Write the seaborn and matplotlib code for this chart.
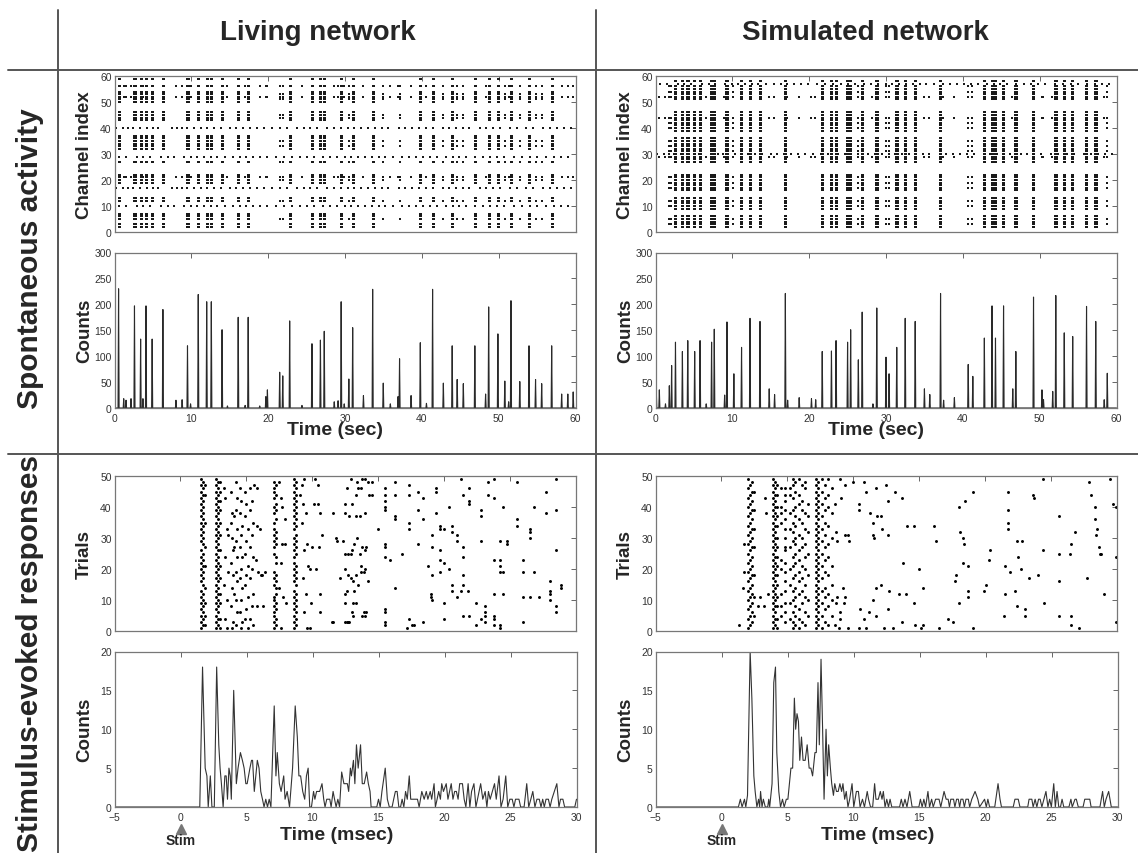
import matplotlib
matplotlib.use("Agg")
import matplotlib.pyplot as plt
import matplotlib.transforms as mtransforms
from matplotlib.lines import Line2D
import seaborn as sns
import pandas as pd

# ---------------- DATA ----------------
# Spontaneous activity: population burst peak times (sec) and counts
LIV_PEAK_T = [0.53, 1.2, 1.5, 2.15, 2.6, 3.4, 3.7, 4.1, 4.9, 6.3, 8.0, 8.8, 9.5, 9.9,
              10.9, 12.0, 12.6, 14.0, 14.7, 16.1, 17.0, 17.4, 18.9, 19.7, 19.9, 21.5,
              21.9, 22.8, 24.4, 25.7, 26.8, 27.3, 28.6, 29.1, 29.5, 29.9, 30.5, 31.0,
              32.4, 33.6, 34.98, 35.9, 36.9, 37.1, 38.6, 39.8, 40.6, 41.4, 42.8, 43.95,
              44.6, 45.4, 46.9, 48.3, 48.7, 49.9, 50.8, 51.3, 51.6, 52.75, 53.95, 54.8,
              55.6, 56.9, 58.2, 59.0, 59.7]
LIV_PEAK_C = [230, 18, 15, 18, 197, 133, 18, 197, 133, 190, 15, 16, 120, 8,
              219, 205, 205, 151, 4, 175, 5, 175, 4, 22, 35, 69,
              62, 168, 5, 124, 131, 148, 12, 14, 205, 8, 56, 155,
              24, 229, 48, 8, 22, 95, 24, 126, 9, 229, 48, 120,
              55, 47, 120, 27, 195, 143, 52, 12, 207, 51, 120, 55,
              47, 120, 27, 27, 31]

SIM_PEAK_T = [0.1, 0.5, 1.3, 1.8, 2.1, 2.6, 3.5, 4.2, 5.1, 5.8, 6.6, 7.3, 7.65, 9.0,
              9.3, 10.2, 11.2, 12.3, 13.6, 14.8, 15.5, 16.9, 17.2, 18.7, 20.3, 20.85,
              21.7, 22.9, 23.5, 25.0, 25.4, 26.4, 26.9, 28.3, 28.8, 30.0, 30.4, 31.4,
              32.5, 33.8, 35.0, 35.7, 37.1, 37.5, 38.9, 40.7, 41.3, 42.8, 43.8, 44.25,
              45.3, 46.5, 46.9, 49.2, 50.3, 50.5, 51.7, 52.1, 53.2, 54.3, 56.1, 57.3,
              58.4, 58.8]
SIM_PEAK_C = [35, 35, 8, 43, 82, 127, 109, 130, 109, 130, 8, 127, 152, 25,
              166, 66, 117, 173, 167, 37, 26, 221, 15, 20, 18, 16,
              109, 110, 130, 127, 151, 93, 185, 8, 193, 98, 66, 117,
              173, 167, 37, 26, 221, 15, 20, 84, 61, 135, 197, 135,
              197, 37, 109, 214, 35, 16, 32, 217, 145, 138, 196, 167,
              16, 67]

# Raster channels recruited in large / medium / small bursts
LIV_CH_BIG = [2, 3, 5, 6, 7, 12, 13, 19, 20, 21, 22, 27, 32, 33, 34, 35, 36, 37,
              43, 44, 45, 46, 50, 51, 52, 53, 54, 56, 59]
LIV_CH_MID = [5, 12, 20, 21, 27, 33, 35, 44, 45, 51, 52, 53, 56]
LIV_CH_FEW = [21, 52, 56]
SIM_CH_BIG = [2, 3, 4, 5, 6, 9, 10, 11, 12, 13, 16, 17, 18, 19, 20, 21, 22, 27, 28,
              29, 30, 31, 32, 33, 34, 35, 36, 39, 40, 41, 42, 43, 44, 45, 46, 51, 52,
              53, 54, 55, 56, 58]
SIM_CH_MID = [3, 5, 10, 12, 17, 19, 21, 29, 31, 33, 35, 40, 42, 44, 52, 54, 56]
SIM_CH_FEW = [29, 44, 52]

# Tonically firing channels and their spike times (sec)
LIV_TONIC_CH_A = [40, 17]
LIV_TONIC_CH_B = [29, 10]
SIM_TONIC_CH_A = [30]
SIM_TONIC_CH_B = [57]
TONIC_T_A = [0.2, 1.1, 1.8, 2.4, 3.3, 4.2, 5.0, 5.7, 7.5, 8.1, 8.8, 9.5, 10.4, 11.2,
             12.1, 13.0, 13.9, 15.0, 15.8, 16.7, 17.6, 18.5, 19.4, 20.5, 21.6, 22.4,
             23.8, 24.6, 25.5, 26.4, 27.7, 28.6, 29.5, 30.4, 31.2, 32.1, 33.0, 33.9,
             34.8, 35.6, 37.0, 37.8, 38.7, 39.6, 40.5, 41.4, 42.7, 43.6, 44.5, 45.4,
             46.2, 47.6, 48.4, 49.3, 50.2, 51.5, 52.4, 53.6, 54.5, 55.8, 56.7, 57.6,
             58.5, 59.4]
TONIC_T_B = [0.6, 1.5, 2.9, 3.7, 4.6, 6.1, 6.9, 7.8, 9.1, 10.0, 10.8, 11.7, 12.6,
             13.4, 14.4, 15.4, 16.3, 17.1, 18.0, 19.0, 19.9, 21.0, 22.0, 23.1, 24.2,
             25.1, 26.0, 27.1, 28.1, 29.0, 30.0, 30.8, 31.7, 32.6, 33.5, 34.4, 35.2,
             36.3, 37.4, 38.3, 39.2, 40.1, 41.0, 42.0, 43.1, 44.0, 44.9, 45.8, 46.9,
             48.0, 48.9, 49.8, 50.7, 52.0, 53.0, 54.1, 55.0, 56.2, 57.2, 58.1, 59.0]

# Stimulus-evoked PSTH (msec, counts)
EVL_T = [-5.0, 1.46, 1.67, 1.87, 2.0, 2.10, 2.26, 2.38, 2.56, 2.74, 2.90, 3.0, 3.10, 3.23,
         3.36, 3.46, 3.56, 3.67, 3.77, 3.85, 4.03, 4.23, 4.36, 4.54, 4.69, 4.82, 4.95,
         5.05, 5.26, 5.38, 5.46, 5.59, 5.82, 5.95, 6.08, 6.21, 6.33, 6.46, 6.59, 6.72,
         6.85, 7.10, 7.23, 7.33, 7.49, 7.62, 7.82, 7.92, 8.08, 8.26, 8.49, 8.69, 8.85,
         8.97, 9.10, 9.26, 9.41, 9.54, 9.67, 9.79, 9.92, 10.08, 10.18, 10.31, 10.44,
         10.54, 10.72, 10.85, 10.95, 11.08, 11.18, 11.31, 11.41, 11.56, 11.67, 11.79,
         11.92, 12.05, 12.21, 12.38, 12.51, 12.64, 12.74, 12.87, 12.95, 13.10, 13.21,
         13.33, 13.46, 13.64, 13.77, 13.92, 14.10, 14.23, 14.36, 14.44, 14.87, 15.0,
         15.13, 15.26, 15.51, 15.67, 15.82, 16.03, 16.15, 16.28, 16.41, 16.54, 16.67,
         16.79, 16.92, 17.05, 17.18, 17.33, 17.44, 17.56, 17.69, 17.82, 17.95, 18.08,
         18.28, 18.46, 18.62, 18.74, 18.92, 19.03, 19.21, 19.31, 19.44, 19.56, 19.69,
         19.79, 19.92, 20.13, 20.26, 20.51, 20.64, 20.77, 20.90, 21.03, 21.15, 21.36,
         21.49, 21.62, 21.79, 21.92, 22.05, 22.23, 22.38, 22.74, 22.90, 23.08, 23.21,
         23.33, 23.46, 23.79, 23.92, 24.13, 24.28, 24.44, 24.64, 24.79, 24.95, 25.13,
         25.26, 25.38, 25.64, 25.77, 26.03, 26.23, 26.38, 26.54, 26.69, 26.85, 27.0,
         27.18, 27.31, 27.44, 27.56, 27.69, 27.87, 28.0, 28.13, 28.51, 28.67, 28.79,
         28.97, 29.10, 29.87, 30.0]
EVL_C = [0, 0, 18, 5, 4, 0, 4, 0, 0, 18, 8, 5, 3, 0,
         4, 4, 1, 5, 4, 1, 15, 3, 5, 7, 6, 5, 3,
         3, 5, 6, 6, 2, 6, 5, 2, 1, 0, 1, 0, 1,
         0, 13, 4, 7, 3, 2, 4, 1, 2, 0, 5, 13, 9,
         4, 4, 2, 1, 4, 5, 0, 0, 2, 1, 2, 2,
         2, 3, 1, 0, 1, 1, 1, 0, 2, 1, 0,
         1, 0, 4.5, 3, 3, 3, 2, 5, 4, 6, 3,
         8, 5, 8, 3, 3, 4.5, 3, 2, 0, 0, 1,
         0, 2, 5, 1, 0, 0, 1, 2, 2, 0, 0,
         1, 0, 2, 1, 4, 1, 1, 1, 1, 1, 0,
         2, 1, 2, 1, 2, 1, 3, 0, 1, 2, 1,
         3, 2, 3, 1, 3, 1, 2, 2, 1, 3, 3,
         1, 0, 3, 0, 2, 3, 0, 3, 1, 2, 0,
         2, 1, 3, 1, 4, 0, 1, 4, 0, 1, 1,
         0, 1, 1, 0, 0, 3, 0, 1, 2, 0, 1,
         1, 0, 1, 0, 1, 1, 0, 1, 3, 0, 1,
         1, 0, 0, 1]

EVS_T = [-5.0, 1.28, 1.43, 1.56, 1.74, 1.84, 1.97, 2.17, 2.30, 2.45, 2.55, 2.68, 2.81,
         2.89, 2.96, 3.07, 3.17, 3.32, 3.50, 3.58, 3.65, 3.83, 3.96, 4.09, 4.19, 4.34,
         4.47, 4.62, 4.75, 4.91, 5.03, 5.26, 5.39, 5.52, 5.62, 5.72, 5.83, 5.93, 6.06,
         6.18, 6.34, 6.49, 6.64, 6.77, 6.90, 7.08, 7.18, 7.31, 7.41, 7.54, 7.66, 7.77,
         7.92, 8.02, 8.12, 8.25, 8.35, 8.48, 8.58, 8.71, 8.84, 8.97, 9.10, 9.20, 9.33,
         9.45, 9.58, 9.71, 9.89, 10.02, 10.22, 10.37, 10.50, 10.68, 10.83, 11.04, 11.14,
         11.29, 11.45, 11.60, 11.70, 11.88, 12.03, 12.16, 12.26, 12.39, 12.52, 12.65,
         12.77, 12.90, 13.49, 13.62, 13.75, 13.90, 14.05, 14.26, 14.44, 14.95, 15.07,
         15.20, 15.33, 15.46, 15.64, 15.76, 15.92, 16.04, 16.22, 16.48, 16.61, 16.86,
         17.02, 17.17, 17.27, 17.37, 17.58, 17.68, 17.81, 17.94, 18.04, 18.14, 18.29,
         18.40, 18.52, 18.70, 18.80, 18.96, 19.21, 19.42, 19.55, 19.93, 20.06, 20.18,
         20.31, 20.70, 20.95, 21.10, 21.21, 22.10, 22.23, 22.48, 22.61, 23.20, 23.30,
         23.51, 23.61, 23.76, 23.89, 24.02, 24.14, 24.27, 24.58, 24.73, 24.86, 24.99,
         25.17, 25.29, 25.42, 25.55, 25.68, 25.80, 25.93, 26.32, 26.47, 26.57, 26.78,
         26.88, 27.03, 27.39, 27.52, 27.90, 28.00, 28.67, 28.87, 29.0, 29.13, 29.33,
         29.53, 30.0]
EVS_C = [0, 0, 1, 0, 1, 0, 1.5, 20, 14, 4, 2, 0, 1,
         0, 2, 0, 1, 0, 0, 1, 0, 3, 16, 18, 7, 2,
         0, 1, 0, 1, 1, 5, 5, 14, 10, 12, 11, 6, 9,
         6, 6, 8, 5, 5, 4, 7, 7, 16, 8, 19, 10, 1,
         10, 4, 8, 5, 3, 1.5, 3, 2, 2, 3, 2, 3, 1,
         2, 0, 1, 3, 0, 2, 2, 0, 1, 0, 2, 1,
         0, 0, 3, 1, 1, 2, 1, 2, 0, 1, 0,
         1, 0, 0, 1, 0, 1, 0, 2, 0, 0, 1,
         0, 1, 0, 2, 0, 1, 0, 1, 1, 0, 2,
         1, 1, 0, 1, 1, 0, 1, 1, 0, 1, 1,
         0, 1, 1, 0, 1, 2, 1, 0, 1, 0, 1,
         0, 0, 3, 1, 0, 0, 1, 1, 0, 0, 1,
         1, 0, 1, 0, 1, 1, 0, 2, 0, 1, 0,
         3, 0, 2, 0, 0, 1, 0, 0, 1, 0, 1,
         1, 0, 0, 1, 1, 0, 0, 2, 0, 1, 2,
         0, 0]

# Evoked rasters: dense spike columns (msec, trial list) and scattered spikes
EVL_COL_T = [1.55, 1.72, 1.85, 2.70, 2.85, 3.00, 7.10, 7.25, 8.60, 8.80]
EVL_COL_TR = ["1,3,5,7,9,11,13,16,18,20,22,24,26,29,31,33,35,37,39,41,43,45,47,49",
              "2,4,6,8,10,12,15,17,19,21,23,25,28,30,32,34,36,38,40,42,44,46,48",
              "2,5,9,14,21,27,35,44,47",
              "1,3,5,7,9,11,13,15,17,19,21,23,25,27,29,31,33,35,37,39,41,43,45,47,49",
              "2,4,6,8,10,12,14,16,18,20,22,24,26,28,30,32,34,36,38,40,42,44,46,48",
              "1,4,9,12,17,21,26,31,35,39,42,45,48",
              "1,3,5,6,8,10,11,15,17,19,25,27,29,31,33,35,38,40,43,45,46,48",
              "2,4,7,9,12,14,16,18,22,24,28,30,32,36,39,41,44,47",
              "1,3,5,7,9,11,13,16,18,20,22,24,26,28,30,33,35,37,39,41,43,45,47,49",
              "2,4,6,8,10,12,15,17,19,21,25,27,29,31,34,36,38,40,42,44,46,48"]
EVL_DOTS = [(3.3, 46), (3.4, 43), (3.5, 33), (3.6, 31), (3.4, 24), (3.6, 19), (3.3, 15),
            (3.5, 10), (3.4, 4), (3.5, 1), (3.8, 45), (3.9, 38), (3.8, 35), (3.9, 30),
            (4.0, 26), (3.8, 22), (4.0, 18), (3.9, 14), (3.8, 8), (4.0, 3), (3.9, 1),
            (4.2, 48), (4.3, 43), (4.2, 39), (4.1, 37), (4.3, 33), (4.2, 29), (4.1, 27),
            (4.3, 24), (4.2, 19), (4.3, 16), (4.1, 12), (4.2, 10), (4.3, 6), (4.2, 2),
            (4.5, 46), (4.6, 42), (4.5, 38), (4.7, 34), (4.6, 31), (4.5, 27), (4.7, 24),
            (4.6, 20), (4.5, 17), (4.7, 14), (4.6, 10), (4.5, 6), (4.7, 3), (4.6, 1),
            (4.9, 45), (5.0, 41), (4.9, 37), (5.1, 33), (5.0, 29), (4.9, 25), (5.1, 21),
            (5.0, 18), (4.9, 15), (5.1, 11), (5.0, 7), (4.9, 4), (5.1, 1), (5.3, 46),
            (5.4, 42), (5.3, 39), (5.5, 35), (5.4, 31), (5.3, 27), (5.5, 24), (5.4, 20),
            (5.3, 17), (5.5, 12), (5.4, 8), (5.3, 4), (5.5, 2), (5.8, 34), (5.7, 23),
            (5.9, 19), (5.8, 8), (5.6, 47), (5.8, 46), (6.1, 18), (6.2, 18), (6.4, 19),
            (6.3, 8), (6.0, 33),
            (7.5, 48), (7.6, 43), (7.7, 40), (7.9, 36), (7.7, 28), (7.9, 28), (7.6, 22),
            (7.8, 11), (7.5, 14), (8.0, 9), (7.6, 1), (9.2, 47), (9.4, 49), (9.1, 44),
            (9.3, 41), (9.5, 38), (9.2, 35), (9.6, 28), (9.4, 26), (9.7, 21), (9.8, 20),
            (9.3, 17), (9.5, 12), (9.9, 9), (9.4, 6), (9.6, 1), (9.8, 1), (10.2, 49),
            (10.1, 41), (10.4, 41), (10.0, 27), (10.5, 27), (10.4, 47), (10.6, 38),
            (10.3, 20), (10.7, 31), (10.6, 12), (10.6, 6),
            (11.5, 3), (11.6, 3), (12.5, 3), (12.6, 3), (12.7, 3), (12.8, 3), (13.0, 6),
            (13.1, 5), (13.8, 5), (13.9, 6), (14.0, 5), (14.1, 6), (12.5, 9), (13.1, 9),
            (13.3, 9), (12.5, 12), (12.6, 13), (13.2, 13), (12.1, 17), (12.5, 20),
            (12.7, 18), (12.9, 17), (13.1, 16), (13.3, 18), (13.5, 15), (13.7, 19),
            (13.9, 19), (14.2, 16), (14.0, 20), (13.7, 21), (11.8, 30), (11.9, 29),
            (12.3, 29), (12.5, 25), (12.7, 25), (12.9, 25), (13.0, 26), (13.2, 28),
            (13.4, 30), (13.6, 25), (13.8, 27), (14.0, 26), (14.1, 27), (11.6, 38),
            (12.5, 38), (12.5, 41), (12.8, 37), (13.0, 41), (13.3, 37), (13.6, 37),
            (14.0, 38), (12.9, 49), (13.4, 48), (13.5, 46), (13.7, 46), (13.8, 49),
            (14.0, 49), (14.2, 48), (14.5, 48), (13.3, 44), (14.3, 44), (14.5, 44),
            (12.6, 46),
            (15.0, 33), (15.5, 46), (15.5, 44), (15.5, 40), (15.5, 39), (15.5, 42),
            (15.5, 28), (15.5, 27), (15.5, 24), (15.5, 7), (15.5, 6), (15.5, 3),
            (15.5, 2), (15.9, 23), (16.3, 48), (16.3, 44), (16.3, 37), (16.3, 36),
            (16.3, 14), (16.8, 25), (17.2, 1), (17.3, 47), (17.3, 44), (17.3, 35),
            (17.3, 33), (17.3, 4), (17.6, 2), (17.7, 2), (18.0, 45), (18.0, 39),
            (18.0, 28), (18.4, 43), (18.4, 36), (18.4, 3), (18.8, 21), (19.0, 11),
            (19.0, 12), (19.1, 31), (19.1, 27), (19.1, 18), (19.1, 10), (19.4, 46),
            (19.4, 45), (19.4, 38), (19.7, 34), (19.7, 33), (19.7, 26), (19.7, 23),
            (19.7, 19), (20.0, 33), (20.0, 22), (20.0, 9), (20.0, 4), (20.4, 40),
            (20.4, 20), (20.6, 13), (20.6, 34), (20.6, 32), (20.6, 15), (21.0, 29),
            (21.0, 11), (21.0, 31), (21.3, 49), (21.3, 13), (21.4, 44), (21.4, 27),
            (21.4, 24), (21.4, 18), (21.4, 15), (21.4, 5), (21.8, 13), (21.9, 46),
            (21.9, 41), (21.9, 42), (21.9, 5), (22.4, 2), (22.4, 9), (22.8, 39),
            (22.8, 37), (22.8, 29), (22.8, 4), (23.1, 5), (23.1, 3), (23.1, 6),
            (23.1, 8), (23.3, 48), (23.3, 44), (23.8, 49), (23.8, 43), (23.8, 23),
            (23.8, 12), (23.8, 5), (23.8, 4), (23.8, 2), (24.2, 29), (24.2, 23),
            (24.2, 21), (24.2, 19), (24.2, 1), (24.2, 2), (24.5, 40), (24.5, 19),
            (24.5, 12), (24.8, 29), (24.8, 28), (25.5, 48), (25.5, 36), (25.5, 34),
            (26.0, 19), (26.0, 23), (26.0, 11), (26.0, 3), (26.5, 33), (26.5, 32),
            (26.5, 30), (26.5, 11), (26.8, 40), (26.8, 19), (27.2, 11), (27.7, 45),
            (27.7, 38), (28.0, 10), (28.0, 12), (28.0, 13), (28.0, 16), (28.5, 49),
            (28.5, 39), (28.5, 26), (28.5, 8), (28.5, 6), (28.9, 15), (28.9, 14)]

EVS_COL_T = [2.05, 2.18, 2.32, 2.45, 3.92, 4.05, 4.18, 4.50, 4.85, 5.20, 5.40, 5.60,
             5.85, 6.10, 6.35, 6.60, 7.15, 7.35, 7.60, 7.85, 8.10, 8.40]
EVS_COL_TR = ["1,4,7,10,13,16,19,22,25,28,31,34,37,40,43,46,49",
              "2,5,8,11,14,17,20,23,26,29,32,35,38,41,44,47",
              "3,6,9,12,15,18,21,24,27,30,33,36,39,42,45,48",
              "5,11,18,27,33,39,45",
              "1,3,5,7,9,11,13,15,17,19,21,23,25,27,29,31,33,35,37,39,41,43,45,47,49",
              "2,4,6,8,10,12,14,16,18,20,22,24,26,28,30,32,34,36,38,40,42,44,46,48",
              "1,4,8,11,15,18,21,24,27,30,34,37,40,44,47",
              "5,8,12,20,23,35,38,40,46",
              "3,6,9,13,16,19,22,26,27,30,33,36,39,42,44,46",
              "4,9,15,20,27,33,38,44,46",
              "1,3,6,10,13,17,21,24,29,32,35,39,43,47,49",
              "2,5,8,11,14,18,22,25,28,30,34,37,40,45,48",
              "1,4,7,12,16,19,23,26,31,36,41,44,49",
              "3,9,13,17,21,27,30,35,39,42,47",
              "2,6,11,15,20,24,28,33,38,46,48",
              "5,10,18,25,32,37,41",
              "1,3,5,7,9,11,13,15,17,19,21,23,25,27,29,31,33,35,37,39,41,43,45,47,49",
              "2,4,6,8,10,12,14,16,18,20,22,24,26,28,30,32,34,36,38,40,42,44,46,48",
              "1,5,9,13,17,21,25,29,33,37,41,45,49",
              "3,7,11,14,19,23,27,31,35,39,43,47",
              "2,8,12,18,24,28,34,40,44,49",
              "5,10,15,21,30,38,46"]
EVS_DOTS = [(1.3, 2), (1.6, 14), (1.7, 19), (1.7, 28), (3.3, 43), (3.4, 38), (3.5, 12),
            (2.8, 8), (3.2, 8), (2.9, 11),
            (8.6, 2), (8.9, 1), (9.0, 4), (9.0, 6), (8.7, 9), (8.8, 11), (9.3, 9),
            (9.4, 11), (9.2, 14), (9.6, 1), (9.6, 31), (9.4, 31), (8.8, 29), (8.7, 32),
            (8.6, 41), (9.1, 43), (9.4, 47), (9.7, 29), (9.0, 49), (10.0, 48),
            (10.4, 1), (11.0, 1), (10.5, 7), (10.8, 4), (11.2, 6), (12.3, 1), (13.0, 1),
            (11.7, 5), (12.6, 7), (12.1, 15), (11.7, 14), (11.5, 10), (12.7, 13),
            (13.5, 12), (14.0, 12), (13.7, 3), (14.7, 2), (15.1, 1), (15.3, 2),
            (14.6, 9), (16.5, 1), (15.3, 14),
            (10.8, 48), (11.0, 45), (11.7, 46), (12.5, 47), (13.2, 45), (13.7, 43),
            (12.6, 42), (10.4, 41), (10.4, 39), (11.3, 38), (11.8, 37), (12.1, 37),
            (11.5, 35), (12.2, 33), (11.5, 31), (11.6, 30), (12.6, 31), (14.1, 34),
            (14.6, 34), (13.8, 22), (15.0, 20), (16.1, 34), (16.3, 29), (18.0, 40),
            (18.1, 32), (18.3, 30), (18.4, 28), (18.5, 42), (19.1, 45), (18.3, 22),
            (18.7, 21), (17.8, 18), (17.7, 16), (18.7, 13), (18.7, 11), (18.0, 9),
            (17.2, 4), (17.6, 3), (19.1, 1), (19.9, 13), (20.1, 15), (20.3, 23),
            (20.4, 26), (21.4, 5), (21.5, 12), (21.5, 21), (21.7, 33), (21.7, 35),
            (21.7, 39), (21.7, 45), (21.9, 19), (22.3, 13), (22.4, 29), (22.5, 24),
            (22.7, 20), (22.8, 29), (23.0, 7), (23.0, 5), (22.4, 8), (23.3, 17),
            (24.0, 18), (23.6, 44), (23.7, 43), (24.4, 26), (24.5, 9), (24.4, 49),
            (25.6, 16), (25.6, 25), (25.6, 5), (25.6, 37), (26.4, 25), (26.5, 5),
            (26.5, 2), (26.5, 28), (26.8, 32), (27.1, 1), (27.7, 17), (27.9, 48),
            (28.0, 44), (28.3, 36), (28.3, 40), (28.4, 31), (28.5, 33), (28.7, 25),
            (28.8, 25), (28.6, 27), (29.0, 12), (29.5, 49), (29.7, 41), (29.9, 40),
            (29.95, 24), (29.9, 3)]

# ---------------- HELPERS ----------------
W, H = 1138, 854


def parse_trials(s):
    out = []
    for part in s.split(','):
        if '-' in part:
            a, b = part.split('-')
            out.extend(range(int(a), int(b) + 1))
        else:
            out.append(int(part))
    return out


def rect(x0, y0, x1, y1):
    return [x0 / W, 1 - y1 / H, (x1 - x0) / W, (y1 - y0) / H]


def peak_line(times, counts, w=0.07):
    xs, ys = [0.0], [0.0]
    for t, c in sorted(zip(times, counts)):
        xs += [t - w, t, t + w]
        ys += [0, c, 0]
    xs.append(60.0)
    ys.append(0.0)
    return pd.DataFrame({'t': xs, 'c': ys})


def spont_raster(times, counts, big, mid, few, offsets, tonic):
    rows = []
    for t, c in zip(times, counts):
        chans = big if c >= 100 else (mid if c >= 40 else few)
        offs = offsets if c >= 100 else offsets[:1]
        for ch in chans:
            for o in offs:
                rows.append((t + o, ch))
    for chans, tlist in tonic:
        for ch in chans:
            for t in tlist:
                rows.append((t, ch))
    return pd.DataFrame(rows, columns=['t', 'ch'])


def evoked_raster(col_t, col_tr, dots):
    rows = []
    for t, s in zip(col_t, col_tr):
        for tr in parse_trials(s):
            rows.append((t, tr))
    rows.extend(dots)
    return pd.DataFrame(rows, columns=['t', 'trial'])


def style(ax, xlim, ylim, xticks, yticks, xlabels=True):
    ax.set_xlim(*xlim)
    ax.set_ylim(*ylim)
    ax.set_xticks(xticks)
    ax.set_yticks(yticks)
    ax.tick_params(direction='in', top=True, right=True, length=3.5, width=0.7,
                   color='#666666', labelsize=7.5, labelcolor='#333333', pad=2)
    ax.tick_params(axis='x', pad=3.5)
    if not xlabels:
        ax.tick_params(labelbottom=False)
    for sp in ax.spines.values():
        sp.set_color('#777777')
        sp.set_linewidth(0.9)
    ax.set_xlabel('')
    ax.set_ylabel('')


def ylab(ax, text):
    ax.set_ylabel(text, fontsize=13.5, fontweight='bold')
    ax.yaxis.set_label_coords(-0.047, 0.5)


# ---------------- FIGURE ----------------
sns.set_theme(style='white')
plt.rcParams['font.family'] = ['Liberation Sans', 'DejaVu Sans']
plt.rcParams['axes.unicode_minus'] = True

fig = plt.figure(figsize=(W / 100, H / 100), dpi=100)
fig.patch.set_facecolor('white')

cols = [(114.5, 575.5), (655.5, 1116.5)]

rasters = [
    spont_raster(LIV_PEAK_T, LIV_PEAK_C, LIV_CH_BIG, LIV_CH_MID, LIV_CH_FEW, [0.0, 0.14],
                 [(LIV_TONIC_CH_A, TONIC_T_A), (LIV_TONIC_CH_B, TONIC_T_B)]),
    spont_raster(SIM_PEAK_T, SIM_PEAK_C, SIM_CH_BIG, SIM_CH_MID, SIM_CH_FEW, [-0.06, 0.1],
                 [(SIM_TONIC_CH_A, TONIC_T_A), (SIM_TONIC_CH_B, TONIC_T_B)]),
]
peaks = [peak_line(LIV_PEAK_T, LIV_PEAK_C), peak_line(SIM_PEAK_T, SIM_PEAK_C)]
evr = [evoked_raster(EVL_COL_T, EVL_COL_TR, EVL_DOTS),
       evoked_raster(EVS_COL_T, EVS_COL_TR, EVS_DOTS)]
evc = [pd.DataFrame({'t': EVL_T, 'c': EVL_C}), pd.DataFrame({'t': EVS_T, 'c': EVS_C})]

for i, (x0, x1) in enumerate(cols):
    # raster
    ax = fig.add_axes(rect(x0, 77, x1, 233))
    sns.scatterplot(data=rasters[i], x='t', y='ch', ax=ax, s=0.7, marker='s',
                    color='#1a1a1a', linewidth=0, legend=False)
    style(ax, (0, 60), (0, 60), range(0, 61, 10), range(0, 61, 10), xlabels=False)
    ylab(ax, 'Channel index')

    # spontaneous counts
    ax = fig.add_axes(rect(x0, 253.5, x1, 409))
    sns.lineplot(data=peaks[i], x='t', y='c', ax=ax, estimator=None, sort=False,
                 color='#2a2a2a', linewidth=0.8)
    style(ax, (0, 60), (0, 300), range(0, 61, 10), range(0, 301, 50))
    ylab(ax, 'Counts')
    ax.set_xlabel('Time (sec)', fontsize=14, fontweight='bold')
    ax.xaxis.set_label_coords(0.478, -0.085)

    # evoked raster
    ax = fig.add_axes(rect(x0, 477, x1 + 0.5, 632))
    sns.scatterplot(data=evr[i], x='t', y='trial', ax=ax, s=4.5, marker='o',
                    color='black', linewidth=0, legend=False)
    style(ax, (-5, 30), (0, 50), range(-5, 31, 5), range(0, 51, 10), xlabels=False)
    ylab(ax, 'Trials')

    # evoked counts
    ax = fig.add_axes(rect(x0, 652.5, x1 + 1, 808))
    sns.lineplot(data=evc[i], x='t', y='c', ax=ax, estimator=None, sort=False,
                 color='#333333', linewidth=0.8)
    style(ax, (-5, 30), (0, 20), range(-5, 31, 5), range(0, 21, 5))
    ylab(ax, 'Counts')
    ax.set_xlabel('Time (msec)', fontsize=14, fontweight='bold')
    ax.xaxis.set_label_coords(0.48, -0.12)
    trans = mtransforms.blended_transform_factory(ax.transData, ax.transAxes)
    ax.plot([0], [-0.14], marker='^', color='#777777', markersize=7,
            transform=trans, clip_on=False)
    ax.text(0, -0.215, 'Stim', transform=trans, ha='center', va='center',
            fontsize=10, fontweight='bold')

# Table grid lines
grid_kw = dict(color='#555555', linewidth=1.4, transform=fig.transFigure)
fig.add_artist(Line2D([58 / W, 58 / W], [1 - 11 / H, 0], **grid_kw))
fig.add_artist(Line2D([596 / W, 596 / W], [1 - 11 / H, 0], **grid_kw))
fig.add_artist(Line2D([8 / W, 1], [1 - 71 / H, 1 - 71 / H], **grid_kw))
fig.add_artist(Line2D([8 / W, 1], [1 - 455 / H, 1 - 455 / H], **grid_kw))

# Headers
fig.text(318 / W, 1 - 39.5 / H, 'Living network', ha='center', va='baseline',
         fontsize=20, fontweight='bold')
fig.text(865 / W, 1 - 39.5 / H, 'Simulated network', ha='center', va='baseline',
         fontsize=20, fontweight='bold')
fig.text(30 / W, 1 - 259 / H, 'Spontaneous activity', ha='center', va='center',
         rotation=90, fontsize=21.5, fontweight='bold')
fig.text(30 / W, 1 - 654 / H, 'Stimulus-evoked responses', ha='center', va='center',
         rotation=90, fontsize=21.5, fontweight='bold')

fig.savefig('out.png', dpi=100, facecolor='white')
